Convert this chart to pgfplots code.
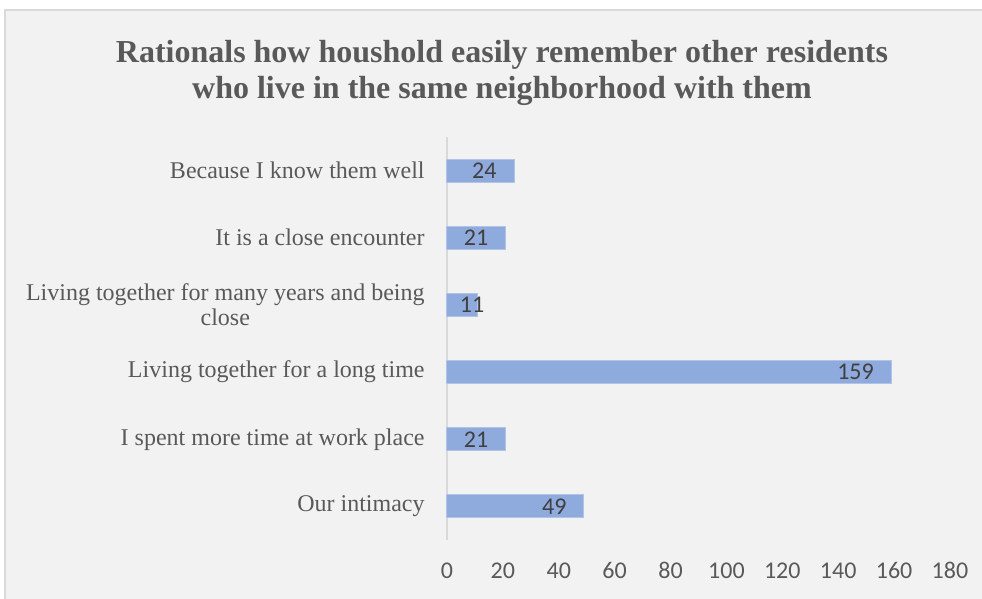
\documentclass[border=0pt]{standalone}
\usepackage{pgfplots}
\pgfplotsset{compat=1.18}
\usepackage{fontspec}
\setmainfont{Liberation Serif}
\newfontfamily\carlito{Carlito}
\definecolor{bg}{HTML}{F2F2F2}
\definecolor{bordergray}{HTML}{D9D9D9}
\definecolor{txtgray}{HTML}{595959}
\definecolor{lblgray}{HTML}{404040}
\definecolor{barblue}{HTML}{8FAADC}
\begin{document}
\begin{tikzpicture}[x=1pt,y=1pt]
\useasboundingbox (-223.5,-29.5) rectangle (267.5,270);
\fill[white] (-223.5,-29.5) rectangle (267.5,270);
\filldraw[fill=bg, draw=bordergray, line width=0.75pt] (-221,-35) rectangle (275,265);
\node[align=center, font=\bfseries\fontsize{16}{18}\selectfont, text=txtgray] at (27.5,233.5)
  {Rationals how houshold easily remember other residents\\who live in the same neighborhood with them};
\begin{axis}[
  at={(0,0)}, anchor=south west,
  scale only axis, width=251.5pt, height=201.5pt,
  xbar, clip=false,
  xmin=0, xmax=180, ymin=-0.5, ymax=5.5,
  xtick={0,20,...,180},
  ytick={0,1,2,3,4,5},
  yticklabels={Our intimacy, I spent more time at work place, Living together for a long time, {Living together for many years and being\\close}, It is a close encounter, Because I know them well},
  axis lines=left, axis line style={-},
  x axis line style={draw=none},
  y axis line style={draw=bordergray, line width=0.9pt},
  major tick length=0pt,
  xtick style={draw=none}, ytick style={draw=none},
  yticklabel style={font=\fontsize{12}{12.5}\selectfont, text=txtgray, align=center, inner sep=0pt, xshift=-11pt},
  xticklabel style={font=\carlito\fontsize{12}{13}\selectfont, text=txtgray, inner sep=0pt, anchor=base, yshift=-19.5pt},
  /pgf/number format/assume math mode=true,
]
\addplot[xbar, bar width=11.5pt, fill=barblue, draw=barblue!70!white, line width=0.5pt,
  nodes near coords,
  visualization depends on={\thisrow{s} \as \lshift},
  every node near coord/.append style={anchor=east, inner sep=0pt, xshift=\lshift pt, font=\carlito\fontsize{12}{13}\selectfont, text=lblgray}]
  table[x=v, y=i] {
v i s
49 0 -8.5
21 1 -8.5
159 2 -8.5
11 3 3.5
21 4 -8.5
24 5 -8.5
};
\end{axis}
\end{tikzpicture}
\end{document}
